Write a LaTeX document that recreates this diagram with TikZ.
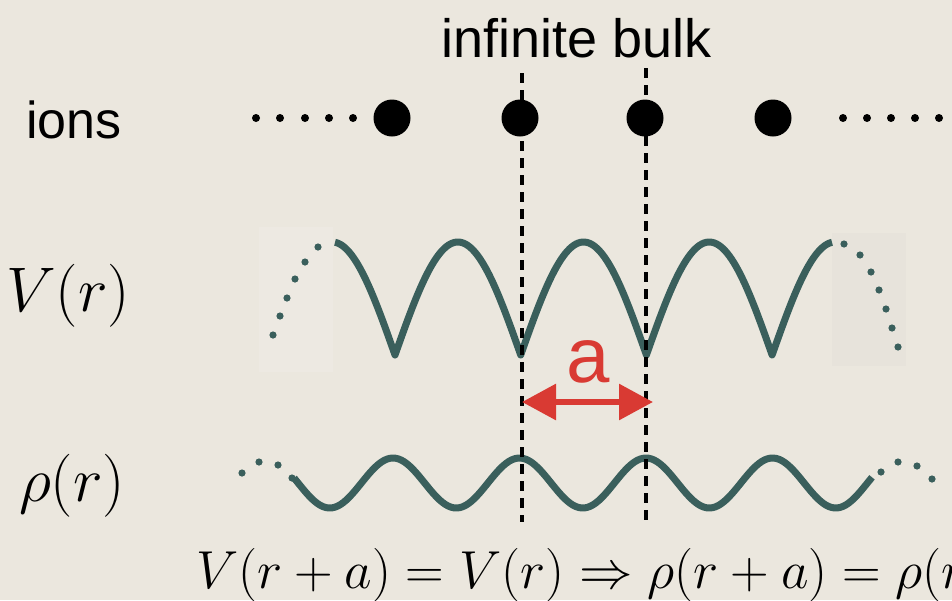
\RequirePackage{fix-cm}
\documentclass[tikz,border=0pt]{standalone}
\usepackage{fontspec}
\newfontfamily\sansf{Liberation Sans}
\usetikzlibrary{arrows.meta}
\definecolor{bg}{HTML}{EBE7DE}
\definecolor{teal}{HTML}{3A5F5C}
\definecolor{redarr}{HTML}{D93A33}
\tikzset{
  curve/.style={teal, line width=7pt, line join=round},
  tdot/.style={fill=teal},
  guide/.style={black, line width=4pt, dash pattern=on 10pt off 7pt},
  lbl/.style={inner sep=0pt, font=\sansf\fontsize{52}{60}\selectfont},
  mlbl/.style={inner sep=0pt, font=\fontsize{63}{70}\selectfont},
}
\begin{document}
\begin{tikzpicture}[x=1pt,y=-1pt]
\useasboundingbox (0,0) rectangle (952,600);
\fill[bg] (0,0) rectangle (952,600);
% faint patches
\fill[color=white, opacity=0.12] (259,227) rectangle (333,372);
\fill[color=black!60, opacity=0.025] (832,233) rectangle (906,366);

% labels
\node[lbl] (bulk) at (577,38) {\fontsize{54}{60}\selectfont infinite bulk};
\node[lbl] (ions) at (74,120) {ions};
\node[mlbl] (vlab) at (68,296) {$V(r)$};
\node[mlbl] (rlab) at (72,486) {$\rho(r)$};
\node[inner sep=0pt, anchor=base west, font=\fontsize{53.5}{60}\selectfont] (eq) at (196,588)
  {$V(r+a)=V(r)\Rightarrow\rho(r+a)=\rho(r)$};

% ions row
\foreach \x in {256,280,305,329,353,843,867,891,915,939}
  \fill[black] (\x,118) circle (4);
\foreach \x/\n in {392/i1,520/i2,645/i3,773/i4}
  \fill[black] (\x,118) circle (18.5);

% V(r)
\draw[curve]
  plot[domain=335:395,samples=40] (\x,{355-113*abs(sin(1.43198*(\x-395)))})
  -- plot[domain=395:520.7,samples=60] (\x,{355-113*abs(sin(1.43198*(\x-395)))})
  -- plot[domain=520.7:646.4,samples=60] (\x,{355-113*abs(sin(1.43198*(\x-395)))})
  -- plot[domain=646.4:772.1,samples=60] (\x,{355-113*abs(sin(1.43198*(\x-395)))})
  -- plot[domain=772.1:832,samples=40] (\x,{355-113*abs(sin(1.43198*(\x-395)))});
\foreach \p in {(318,247),(305,262),(295,279),(287,298),(280,316),(273,335),
                (844,244),(860,255),(871,272),(879,290),(886,309),(892,328),(898,347)}
  \fill[tdot] \p circle (3.6);

% rho(r)
\draw[curve, line cap=butt]
  plot[domain=294:872,samples=200] (\x,{483-25*cos(2.84585*(\x-393))});
\foreach \p in {(242,473),(259,462),(278,465),(292,478),
                (881,472),(898,462),(917,466),(932,479)}
  \fill[tdot] \p circle (3.6);

% guides
\coordinate (g1t) at (522,73);
\coordinate (g1b) at (522,522);
\coordinate (g2t) at (646,68);
\coordinate (g2b) at (646,522);
\draw[guide] (g1t) -- (g1b);
\draw[guide] (g2t) -- (g2b);

% lattice constant arrow
\coordinate (al) at (522,402);
\coordinate (ar) at (653,402);
\draw[redarr, line width=6pt, {Triangle[length=34pt,width=35pt]}-{Triangle[length=34pt,width=35pt]}] (al) -- (ar);
\node[inner sep=0pt, text=redarr, font=\sansf\fontsize{78}{80}\selectfont] (alab) at (588,362) {a};
\end{tikzpicture}
\end{document}
